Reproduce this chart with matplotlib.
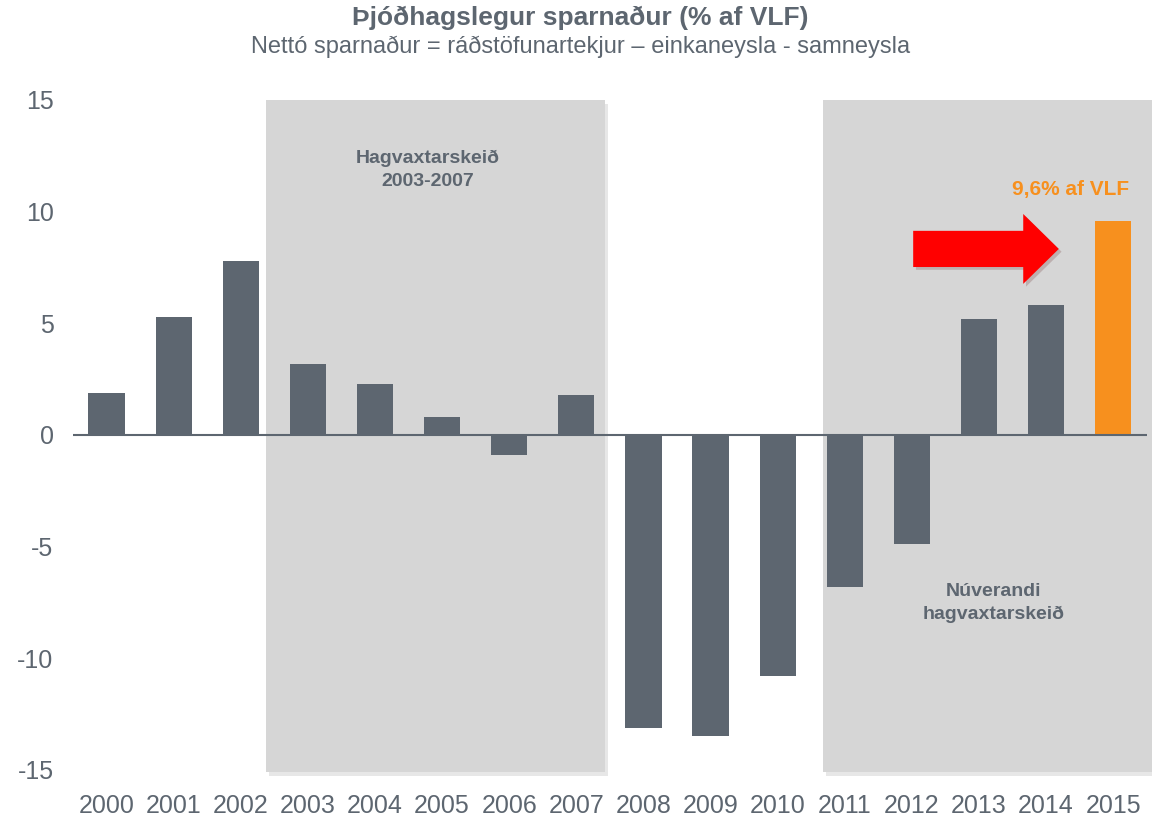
import matplotlib.pyplot as plt
import matplotlib.patches as mpatches
import matplotlib.patheffects as pe
import numpy as np

plt.rcParams['font.family'] = ['Liberation Sans', 'DejaVu Sans']

# gögn
ar = ['2000', '2001', '2002', '2003', '2004', '2005', '2006', '2007',
      '2008', '2009', '2010', '2011', '2012', '2013', '2014', '2015']
sparnadur = [1.9, 5.3, 7.8, 3.2, 2.3, 0.8, -0.9, 1.8,
             -13.1, -13.5, -10.8, -6.8, -4.9, 5.2, 5.8, 9.6]
yticks = [-15, -10, -5, 0, 5, 10, 15]

grar = '#5d6670'
skuggi = '#d6d6d6'
appelsina = '#f7901e'

fig = plt.figure(figsize=(11.52, 8.16), dpi=100)
ax = fig.add_axes([0.0634, 0.0564, 0.932, 0.8211])

x = np.arange(len(ar))
litir = [grar] * (len(ar) - 1) + [appelsina]

# skyggð svæði (hagvaxtarskeið)
sh = [pe.SimplePatchShadow(offset=(2, -3), alpha=0.12), pe.Normal()]
r1 = mpatches.Rectangle((2.38, -15.1), 7.43 - 2.38, 30.1, facecolor=skuggi,
                        edgecolor='none', clip_on=False, zorder=0)
r2 = mpatches.Rectangle((10.68, -15.1), 15.7 - 10.68, 30.1, facecolor=skuggi,
                        edgecolor='none', clip_on=False, zorder=0)
for r in (r1, r2):
    r.set_path_effects(sh)
    ax.add_patch(r)

ax.bar(x, sparnadur, width=0.54, color=litir, zorder=2)
ax.axhline(0, color=grar, lw=1.5, zorder=3)

ax.set_xlim(-0.5, 15.5)
ax.set_ylim(-15, 15)
ax.set_yticks(yticks)
ax.set_yticklabels([str(v) for v in yticks])
ax.set_xticks(x)
ax.set_xticklabels(ar)
ax.tick_params(axis='both', length=0, labelsize=18, colors=grar)
ax.tick_params(axis='y', pad=14)
ax.tick_params(axis='x', pad=17)
for s in ax.spines.values():
    s.set_visible(False)
ax.patch.set_alpha(0)

# ör
ar_patch = mpatches.FancyArrow(12.02, 8.33, 2.17, 0, width=1.62, head_width=3.13,
                               head_length=0.53, length_includes_head=True,
                               facecolor='#ff0000', edgecolor='none', zorder=4)
ar_patch.set_path_effects([pe.SimplePatchShadow(offset=(2, -2), alpha=0.18), pe.Normal()])
ax.add_patch(ar_patch)

ax.text(4.78, 11.87, 'Hagvaxtarskeið\n2003-2007', ha='center', va='center',
        fontsize=14, fontweight='bold', color=grar, linespacing=1.45)
ax.text(13.22, -7.52, 'Núverandi\nhagvaxtarskeið', ha='center', va='center',
        fontsize=14, fontweight='bold', color=grar, linespacing=1.45)
ax.text(14.36, 10.97, '9,6% af VLF', ha='center', va='center',
        fontsize=15, fontweight='bold', color=appelsina)

fig.text(0.504, 0.978, 'Þjóðhagslegur sparnaður (% af VLF)', ha='center', va='center',
         fontsize=19, fontweight='bold', color=grar)
fig.text(0.504, 0.942, 'Nettó sparnaður = ráðstöfunartekjur – einkaneysla - samneysla',
         ha='center', va='center', fontsize=17, color=grar)

fig.savefig('out.png', dpi=100)
